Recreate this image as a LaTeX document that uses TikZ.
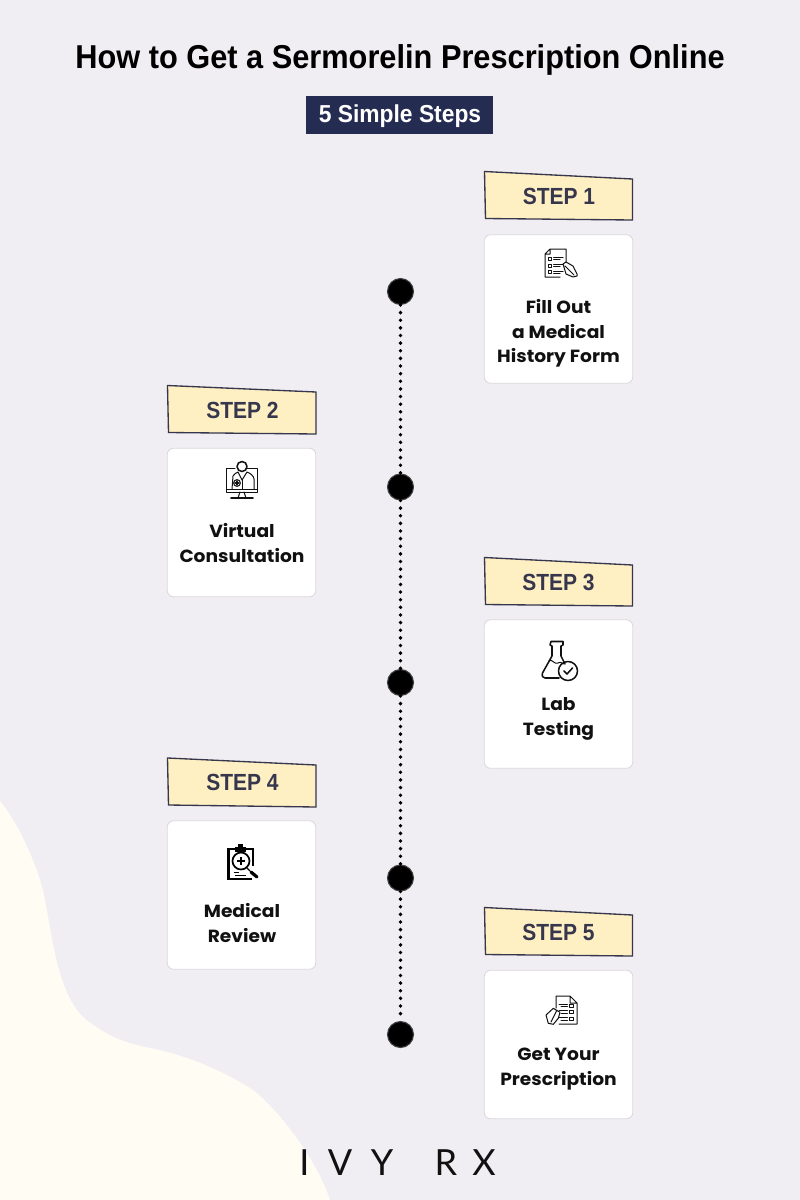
\documentclass[tikz,border=0pt]{standalone}
\usepackage{fontspec}
\setmainfont[FakeStretch=1.06]{Poppins}
\newfontfamily\titlefont[FakeStretch=0.93]{Liberation Sans}
\newfontfamily\tagfont[FakeStretch=0.9]{Liberation Sans}
\newfontfamily\logofont{Lato}
\definecolor{bgc}{HTML}{F0EEF2}
\definecolor{blobc}{HTML}{FFFCF4}
\definecolor{navy}{HTML}{252C52}
\definecolor{tagc}{HTML}{FFF0C4}
\definecolor{tagl}{HTML}{36364C}
\definecolor{inkc}{HTML}{111111}
\definecolor{cardl}{HTML}{D9D7DC}
\tikzset{
 x=0.75pt,y=-0.75pt,
 card/.style={draw=cardl,line width=0.6pt,fill=white,rounded corners=5pt,minimum width=111.5pt,minimum height=111.5pt,inner sep=0pt},
 cardtext/.style={font=\fontsize{13.2pt}{18.2pt}\selectfont\bfseries,text=inkc,align=center,inner sep=0pt},
 tagshape/.style={draw=tagl,line width=1pt,fill=tagc,line join=miter},
 taglabel/.style={font=\fontsize{17.5pt}{20pt}\selectfont\tagfont\bfseries,text=tagl,inner sep=0pt,anchor=base},
 bigdot/.style={circle,fill=black,draw=black!75,line width=0.8pt,minimum size=19.5pt,inner sep=0pt},
 dotline/.style={line width=2.9pt,line cap=round,dash pattern=on 0pt off 5.72pt,draw=black},
 ico/.style={line width=0.75pt,draw=inkc,line cap=round,line join=round},
 icob/.style={line width=1.15pt,draw=inkc,line cap=round,line join=round},
 logo/.style={font=\fontsize{27pt}{27pt}\selectfont\logofont,text=inkc,inner sep=0pt,anchor=base},
}
\begin{document}
\begin{tikzpicture}
\useasboundingbox (0,0) rectangle (800,1200);
\fill[bgc] (0,0) rectangle (800,1200);
% blob
\fill[blobc] (0,801) .. controls (12,815) and (32,850) .. (43,890)
 .. controls (50,925) and (53,950) .. (60,973)
 .. controls (68,1000) and (78,1015) .. (92,1024)
 .. controls (110,1037) and (125,1043) .. (150,1048)
 .. controls (190,1056) and (225,1072) .. (253,1090)
 .. controls (275,1107) and (315,1155) .. (330,1200) -- (0,1200) -- cycle;
% title
\node[font=\fontsize{24.8pt}{28pt}\selectfont\titlefont\bfseries,text=black,inner sep=0pt,anchor=base] (title) at (400,68) {How to Get a Sermorelin Prescription Online};
\node[fill=navy,minimum width=140pt,minimum height=28pt,inner sep=0pt] (sub) at (399.5,115) {};
\node[text=white,font=\fontsize{18.4pt}{20pt}\selectfont\titlefont\bfseries,inner sep=0pt,anchor=base] (subt) at (400,122) {5 Simple Steps};
% timeline
\node[bigdot] (d1) at (400.5,291.5) {};
\node[bigdot] (d2) at (400.5,487) {};
\node[bigdot] (d3) at (400.5,682.5) {};
\node[bigdot] (d4) at (400.5,878) {};
\node[bigdot] (d5) at (400.5,1034.5) {};
\foreach \a/\b in {d1/d2,d2/d3,d3/d4,d4/d5}
 \draw[dotline] (\a.south) -- (\b.north);
% tags
\draw[tagshape] (484.5,171.5) -- (632.5,179) -- (632.5,220) -- (485.5,218.5) -- cycle;
\node[taglabel] (t1) at (559,204.5) {STEP 1};
\draw[tagshape] (167.5,385.5) -- (316,392) -- (316,434) -- (168.5,432.5) -- cycle;
\node[taglabel] (t2) at (242.5,418.5) {STEP 2};
\draw[tagshape] (484.5,557.5) -- (632.5,565) -- (632.5,606) -- (485.5,604.5) -- cycle;
\node[taglabel] (t3) at (558.5,590.5) {STEP 3};
\draw[tagshape] (167.5,758) -- (316,765) -- (316,807) -- (168.5,805) -- cycle;
\node[taglabel] (t4) at (242.5,790.5) {STEP 4};
\draw[tagshape] (484.5,907.5) -- (632.5,915) -- (632.5,956) -- (485.5,954.5) -- cycle;
\node[taglabel] (t5) at (558.5,940.5) {STEP 5};
% cards
\node[card] (c1) at (558.5,309) {};
\node[card] (c2) at (241.5,522.5) {};
\node[card] (c3) at (558.5,694) {};
\node[card] (c4) at (241.5,895) {};
\node[card] (c5) at (558.5,1044.5) {};
\node[cardtext] (l1) at (558.5,333.5) {Fill Out\\a Medical\\History Form};
\node[cardtext] (l2) at (242,543) {Virtual\\Consultation};
\node[cardtext] (l3) at (558.5,719) {Lab\\Testing};
\node[cardtext] (l4) at (242,923) {Medical\\Review};
\node[cardtext] (l5) at (558.5,1069) {Get Your\\Prescription};
% icon 1: form + pen
\begin{scope}[shift={(545,249)}]
\draw[ico] (5,0) -- (21,0) -- (21,13) (15,28) -- (0,28) -- (0,5) -- (5,0) -- (5,5) -- (0,5);
\foreach \y in {9.5,16.5,23}{
 \draw[ico] (3,{\y-1.5}) rectangle (6.5,{\y+1.5});
 \draw[ico] (8.5,{\y-1}) -- (18,{\y-1}) (8.5,{\y+1}) -- (15,{\y+1});
}
\draw[ico] (18,15) -- (21,13) -- (28,17) -- (32,25) -- (32,27) -- (28,28) -- (21,25) -- cycle (20,17) -- (29,26);
\end{scope}
% icon 2: doctor on monitor
\begin{scope}[shift={(226,462)}]
\draw[ico] (9,6.5) -- (0.7,6.5) -- (0.7,30) -- (31.7,30) -- (31.7,6.5) -- (21,6.5);
\draw[icob] (16,4.5) circle[radius=5];
\draw[ico] (6,27) -- (7,14) .. controls (8,12) and (10,11) .. (12,10) -- (16,18) -- (21,10) .. controls (24,11) and (28,14) .. (28,17) -- (28,27);
\draw[ico] (16,18) -- (16,27);
\draw[ico] (0.7,27) -- (31.7,27);
\draw[icob] (9,21) -- (13,21) (11,19) -- (11,23);
\draw[ico] (11,21) circle[radius=3.4];
\draw[ico] (14,30) -- (12,36) (18,30) -- (20,36);
\draw[icob] (5,36) -- (27,36);
\end{scope}
% icon 3: flask with check
\begin{scope}[shift={(542,641)}]
\draw[icob] (9,0.5) -- (21,0.5) -- (21,4) -- (19,5) -- (19,15) -- (23,23)
 (9,0.5) -- (8,4) -- (10,5) -- (10,15) -- (0.5,32) .. controls (-0.5,35) and (1,37) .. (3,37) -- (17,37);
\draw[ico] (7,20) .. controls (10,17) and (12,24) .. (16,22) .. controls (19,20) and (20,23) .. (22,23);
\draw[icob] (26,30) circle[radius=9.5];
\draw[icob] (22,30) -- (25,33) -- (30.5,27);
\end{scope}
% icon 4: clipboard with magnifier
\begin{scope}[shift={(228,846)}]
\draw[line width=1.9pt,draw=black,line join=miter] (7,3) -- (0.5,3) -- (0.5,33) -- (24,33);
\draw[line width=1.9pt,draw=black] (18,3) -- (25,3) -- (25,20);
\fill[black] (7,1) rectangle (18,6);
\fill[black] (10,-2) rectangle (15,2);
\draw[line width=1.3pt,draw=black] (13,15) circle[radius=8.5];
\draw[line width=1.5pt,draw=black] (9,15) -- (17,15) (13,11) -- (13,19);
\draw[line width=0.6pt,draw=black] (7,29) -- (18,29);
\draw[line width=0.5pt,draw=black] (6,26) -- (11,26);
\draw[line width=0.9pt,draw=black] (19,22) -- (22,25);
\draw[line width=2.4pt,draw=black,line cap=round] (23,26) -- (29,31);
\end{scope}
% icon 5: prescription document with pen
\begin{scope}[shift={(546,996)}]
\draw[ico] (10,0) -- (24,0) -- (31,7) -- (31,28) -- (13,28) (10,0) -- (10,12) (24,0) -- (24,7) -- (31,7);
\foreach \y in {9.5,16,23}{
 \draw[ico] (23.5,{\y-1.5}) rectangle (27.5,{\y+1.5});
 \draw[ico] (13,{\y-1.2}) -- (21.5,{\y-1.2}) (15,{\y+1}) -- (21.5,{\y+1});
}
\draw[ico] (7.3,12.3) -- (14,16.3) -- (12.3,22.3) -- (7.3,28.3) -- (2.3,27.3) -- (0,19) -- cycle (10.5,15) -- (5,26);
\end{scope}
% logo
\node[logo] (li) at (304.5,1175) {I};
\node[logo] (lv) at (340,1175) {V};
\node[logo] (ly) at (382,1175) {Y};
\node[logo] (lr) at (446,1175) {R};
\node[logo] (lx) at (484,1175) {X};
\end{tikzpicture}
\end{document}
